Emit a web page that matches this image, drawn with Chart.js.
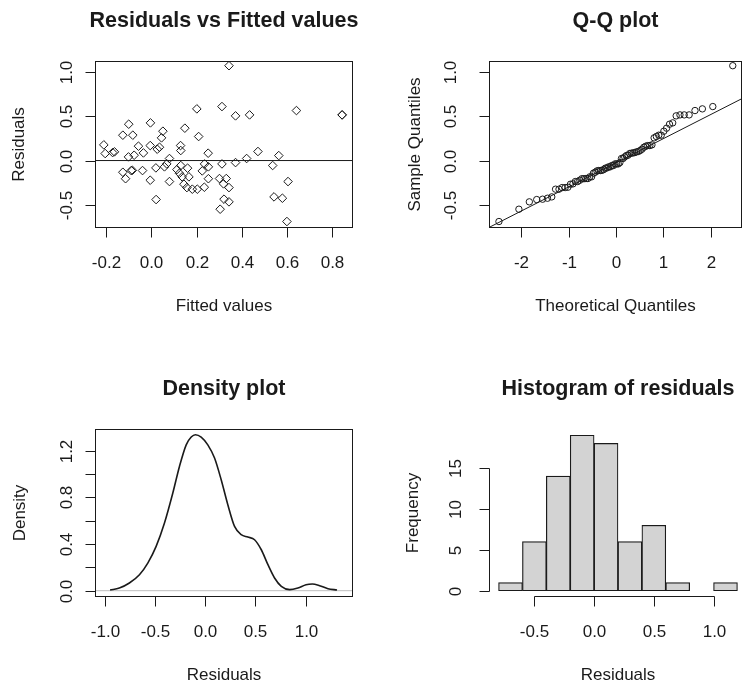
<!DOCTYPE html>
<html>
<head>
<meta charset="utf-8">
<script src="https://cdn.jsdelivr.net/npm/chart.js@4.4.1/dist/chart.umd.min.js"></script>
<style>
  body { margin: 0; background: #fff; }
  #wrap { position: relative; width: 746px; height: 687px; overflow: hidden; background: #fff; }
  canvas { position: absolute; }
</style>
</head>
<body>
<div id="wrap">
  <canvas id="c1" width="373" height="344" style="left:0;top:0"></canvas>
  <canvas id="c2" width="374" height="344" style="left:373px;top:0"></canvas>
  <canvas id="c3" width="373" height="344" style="left:0;top:343px"></canvas>
  <canvas id="c4" width="374" height="344" style="left:373px;top:343px"></canvas>
</div>
<script>
// model output
var fitted = [0.343, 0.201, 0.312, 0.372, 0.434, 0.641, 0.843, 0.843, -0.100, -0.004,
  -0.126, -0.082, 0.051, 0.045, 0.148, 0.209, -0.210, -0.204, -0.163, -0.171,
  -0.101, -0.076, -0.057, -0.035, -0.005, 0.026, 0.036, 0.080, 0.129, 0.130,
  0.251, 0.471, 0.563, 0.421, 0.372, 0.312, 0.235, 0.252, 0.536, -0.126,
  -0.089, -0.084, -0.114, -0.039, 0.020, 0.058, 0.068, -0.005, 0.080, 0.113,
  0.130, 0.160, 0.124, 0.136, 0.166, 0.144, 0.157, 0.181, 0.203, 0.234,
  0.225, 0.252, 0.301, 0.331, 0.319, 0.343, 0.321, 0.343, 0.304, 0.021,
  0.542, 0.579, 0.604, 0.599];
var residuals = [1.070, 0.583, 0.609, 0.504, 0.515, 0.564, 0.515, 0.515, 0.410, 0.425,
  0.286, 0.286, 0.331, 0.256, 0.365, 0.271, 0.177, 0.079, 0.098, 0.090,
  0.041, 0.060, 0.162, 0.086, 0.169, 0.128, 0.150, 0.023, 0.169, 0.113,
  0.083, 0.102, 0.056, 0.023, -0.023, -0.038, -0.038, -0.071, -0.056, -0.132,
  -0.113, -0.110, -0.205, -0.113, -0.083, -0.071, -0.038, -0.222, -0.237, -0.102,
  -0.056, -0.086, -0.143, -0.184, -0.184, -0.267, -0.305, -0.323, -0.323, -0.301,
  -0.117, -0.205, -0.203, -0.203, -0.263, -0.305, -0.436, -0.466, -0.549, -0.440,
  -0.410, -0.425, -0.237, -0.688];

// kernel density curve
var densX = [-0.946, -0.854, -0.754, -0.654, -0.571, -0.488, -0.405, -0.322, -0.256, -0.189,
  -0.139, -0.097, -0.040, 0.026, 0.093, 0.159, 0.225, 0.292, 0.358, 0.424,
  0.491, 0.558, 0.624, 0.690, 0.757, 0.840, 0.922, 1.003, 1.066, 1.138, 1.221, 1.311];
var densY = [0.006, 0.023, 0.066, 0.137, 0.237, 0.380, 0.580, 0.837, 1.065, 1.250,
  1.317, 1.337, 1.317, 1.250, 1.137, 0.951, 0.737, 0.551, 0.480, 0.460,
  0.437, 0.351, 0.223, 0.109, 0.037, 0.009, 0.023, 0.051, 0.057, 0.043, 0.017, 0.006];

// histogram
var histBreaks = [-0.8, -0.6, -0.4, -0.2, 0.0, 0.2, 0.4, 0.6, 0.8, 1.0, 1.2];
var histCounts = [1, 6, 14, 19, 18, 6, 8, 1, 0, 1];

// qq reference line (through the quartiles)
var qqIntercept = -0.026;
var qqSlope = 0.272;

// tick values
var fitTicks = [-0.2, 0.0, 0.2, 0.4, 0.6, 0.8];
var resTicks = [-0.5, 0.0, 0.5, 1.0];
var qTicks = [-2, -1, 0, 1, 2];
var densXTicks = [-1.0, -0.5, 0.0, 0.5, 1.0];
var densYTicks = [0.0, 0.2, 0.4, 0.6, 0.8, 1.0, 1.2];
var densYLabels = ['0.0', '', '0.4', '', '0.8', '', '1.2'];
var histXTicks = [-0.5, 0.0, 0.5, 1.0];
var histYTicks = [0, 5, 10, 15];

var FONT = '"Liberation Sans", Arial, Helvetica, sans-serif';
var INK = '#1a1a1a';
var TICK = 10;

// inverse normal cdf (Acklam), used for the theoretical quantiles
function qnorm(p) {
  var a = [-39.69683028665376, 220.9460984245205, -275.9285104469687, 138.3577518672690, -30.66479806614716, 2.506628277459239];
  var b = [-54.47609879822406, 161.5858368580409, -155.6989798598866, 66.80131188771972, -13.28068155288572];
  var c = [-0.007784894002430293, -0.3223964580411365, -2.400758277161838, -2.549732539343734, 4.374664141464968, 2.938163982698783];
  var d = [0.007784695709041462, 0.3224671290700398, 2.445134137142996, 3.754408661907416];
  var q, r;
  if (p < 0.02425) {
    q = Math.sqrt(-2 * Math.log(p));
    return (((((c[0]*q+c[1])*q+c[2])*q+c[3])*q+c[4])*q+c[5]) / ((((d[0]*q+d[1])*q+d[2])*q+d[3])*q+1);
  }
  if (p > 1 - 0.02425) {
    q = Math.sqrt(-2 * Math.log(1 - p));
    return -(((((c[0]*q+c[1])*q+c[2])*q+c[3])*q+c[4])*q+c[5]) / ((((d[0]*q+d[1])*q+d[2])*q+d[3])*q+1);
  }
  q = p - 0.5; r = q * q;
  return (((((a[0]*r+a[1])*r+a[2])*r+a[3])*r+a[4])*r+a[5])*q / (((((b[0]*r+b[1])*r+b[2])*r+b[3])*r+b[4])*r+1);
}

function fmt1(v) { return v.toFixed(1); }

// R style box, axes and labels
function rPlot(cfg) {
  return {
    id: 'rPlot',
    afterDraw: function(chart) {
      var ctx = chart.ctx, a = chart.chartArea;
      var sx = chart.scales.x, sy = chart.scales.y;
      ctx.save();
      ctx.strokeStyle = INK;
      ctx.lineWidth = 1;
      if (cfg.box) {
        ctx.strokeRect(a.left + 0.5, a.top + 0.5, a.right - a.left - 1, a.bottom - a.top - 1);
      }
      var by = a.bottom - 0.5, lx = a.left + 0.5;
      var xs = cfg.xTicks.map(function(v) { return Math.round(sx.getPixelForValue(v)) + 0.5; });
      var ys = cfg.yTicks.map(function(v) { return Math.round(sy.getPixelForValue(v)) + 0.5; });
      ctx.beginPath();
      ctx.moveTo(xs[0], by); ctx.lineTo(xs[xs.length - 1], by);
      xs.forEach(function(px) { ctx.moveTo(px, by); ctx.lineTo(px, by + TICK); });
      ctx.moveTo(lx, ys[0]); ctx.lineTo(lx, ys[ys.length - 1]);
      ys.forEach(function(py) { ctx.moveTo(lx, py); ctx.lineTo(lx - TICK, py); });
      ctx.stroke();

      ctx.fillStyle = INK;
      ctx.font = '17px ' + FONT;
      ctx.textAlign = 'center';
      ctx.textBaseline = 'alphabetic';
      var cx = (a.left + a.right) / 2, cy = (a.top + a.bottom) / 2;
      cfg.xTicks.forEach(function(v, i) { ctx.fillText(cfg.xLabels[i], xs[i], a.bottom + 40); });
      ctx.fillText(cfg.xTitle, cx, a.bottom + 83);
      cfg.yTicks.forEach(function(v, i) {
        if (!cfg.yLabels[i]) return;
        ctx.save();
        ctx.translate(cfg.yLabX, ys[i]);
        ctx.rotate(-Math.PI / 2);
        ctx.fillText(cfg.yLabels[i], 0, 0);
        ctx.restore();
      });
      ctx.save();
      ctx.translate(cfg.yTitleX, cy);
      ctx.rotate(-Math.PI / 2);
      ctx.fillText(cfg.yTitle, 0, 0);
      ctx.restore();

      ctx.font = 'bold 21.5px ' + FONT;
      ctx.fillText(cfg.title, cx, a.top - 34.5);
      ctx.restore();
    }
  };
}

function baseOptions(pad, xr, yr) {
  return {
    responsive: false,
    animation: false,
    events: [],
    layout: { padding: pad },
    plugins: { legend: { display: false }, tooltip: { enabled: false } },
    scales: {
      x: { type: 'linear', display: false, offset: false, min: xr[0], max: xr[1] },
      y: { type: 'linear', display: false, min: yr[0], max: yr[1] }
    }
  };
}

document.addEventListener('DOMContentLoaded', function() {
  // 1. residuals vs fitted
  var pts = fitted.map(function(f, i) { return { x: f, y: residuals[i] }; });
  var o1 = baseOptions({ left: 95, right: 20, top: 61, bottom: 116 }, [-0.249, 0.891], [-0.761, 1.123]);
  new Chart(document.getElementById('c1'), {
    type: 'scatter',
    data: { datasets: [
      { data: pts, pointStyle: 'rectRot', pointRadius: 4.3, borderColor: INK, backgroundColor: 'rgba(0,0,0,0)', borderWidth: 1 },
      { type: 'line', data: [{ x: -0.249, y: 0 }, { x: 0.891, y: 0 }], borderColor: INK, borderWidth: 1, pointRadius: 0 }
    ] },
    options: o1,
    plugins: [rPlot({ box: true, title: 'Residuals vs Fitted values', xTitle: 'Fitted values', yTitle: 'Residuals',
      xTicks: fitTicks, xLabels: fitTicks.map(fmt1), yTicks: resTicks, yLabels: resTicks.map(fmt1), yLabX: 72, yTitleX: 24 })]
  });

  // 2. normal Q-Q plot
  var sorted = residuals.slice().sort(function(p, q) { return p - q; });
  var n = sorted.length;
  var qq = sorted.map(function(v, i) { return { x: qnorm((i + 0.5) / n), y: v }; });
  var qx = [-2.68, 2.665];
  var o2 = baseOptions({ left: 116, right: 0, top: 61, bottom: 116 }, qx, [-0.761, 1.123]);
  new Chart(document.getElementById('c2'), {
    type: 'scatter',
    data: { datasets: [
      { data: qq, pointStyle: 'circle', pointRadius: 3.2, borderColor: INK, backgroundColor: 'rgba(0,0,0,0)', borderWidth: 1 },
      { type: 'line', data: qx.map(function(x) { return { x: x, y: qqIntercept + qqSlope * x }; }), borderColor: INK, borderWidth: 1, pointRadius: 0 }
    ] },
    options: o2,
    plugins: [rPlot({ box: true, title: 'Q-Q plot', xTitle: 'Theoretical Quantiles', yTitle: 'Sample Quantiles',
      xTicks: qTicks, xLabels: qTicks.map(String), yTicks: resTicks, yLabels: resTicks.map(fmt1), yLabX: 83, yTitleX: 47 })]
  });

  // 3. density
  var dx = [-1.096, 1.47];
  var o3 = baseOptions({ left: 95, right: 20, top: 86, bottom: 90 }, dx, [-0.054, 1.386]);
  new Chart(document.getElementById('c3'), {
    type: 'line',
    data: { datasets: [
      { data: densX.map(function(x, i) { return { x: x, y: densY[i] }; }), borderColor: INK, borderWidth: 1.6, pointRadius: 0, cubicInterpolationMode: 'monotone' },
      { data: dx.map(function(x) { return { x: x, y: 0 }; }), borderColor: '#bdbdbd', borderWidth: 1, pointRadius: 0 }
    ] },
    options: o3,
    plugins: [rPlot({ box: true, title: 'Density plot', xTitle: 'Residuals', yTitle: 'Density',
      xTicks: densXTicks, xLabels: densXTicks.map(fmt1), yTicks: densYTicks, yLabels: densYLabels, yLabX: 72, yTitleX: 25 })]
  });

  // 4. histogram
  var bars = histCounts.map(function(c, i) { return { x: (histBreaks[i] + histBreaks[i + 1]) / 2, y: c }; });
  var o4 = baseOptions({ left: 116, right: 0, top: 86, bottom: 90 }, [-0.88, 1.28], [-0.76, 19.76]);
  o4.scales.x.grid = { offset: false };
  new Chart(document.getElementById('c4'), {
    type: 'bar',
    data: { datasets: [
      { data: bars, backgroundColor: '#d3d3d3', borderColor: INK, borderWidth: 1.2, borderSkipped: false,
        barPercentage: 1, categoryPercentage: 1, grouped: false, base: 0 }
    ] },
    options: o4,
    plugins: [rPlot({ box: false, title: 'Histogram of residuals', xTitle: 'Residuals', yTitle: 'Frequency',
      xTicks: histXTicks, xLabels: histXTicks.map(fmt1), yTicks: histYTicks, yLabels: histYTicks.map(String), yLabX: 88, yTitleX: 45 })]
  });
});
</script>
</body>
</html>
